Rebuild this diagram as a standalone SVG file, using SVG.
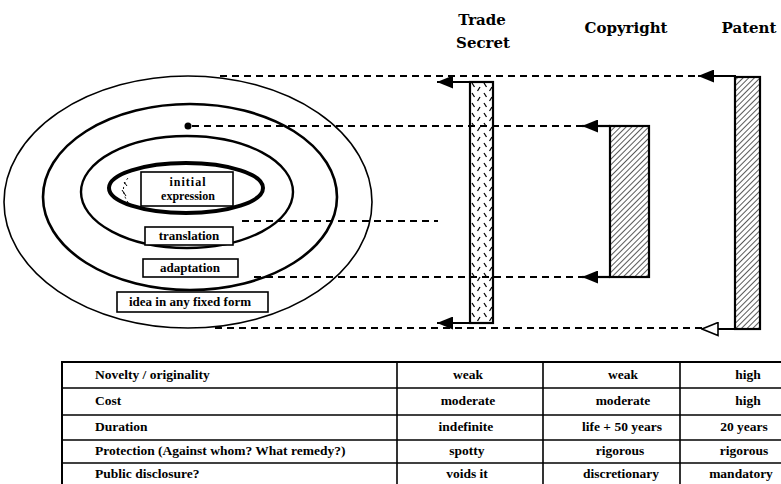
<svg xmlns="http://www.w3.org/2000/svg" width="781" height="484" viewBox="0 0 781 484">
<style>
.hdr{font-family:"DejaVu Serif","Liberation Serif",serif;font-weight:bold;font-size:15px;text-anchor:middle}
.lbl{font-family:"Liberation Serif","Times New Roman",serif;font-weight:bold;font-size:13px;text-anchor:middle}
.sm{font-size:12px}
.cell{font-family:"Liberation Serif","Times New Roman",serif;font-weight:bold;font-size:13.5px}
.mid{text-anchor:middle}
.dash{stroke:#000;stroke-width:1.8;stroke-dasharray:7 5;fill:none}
.solid{stroke:#000;stroke-width:2.2;fill:none}
.box{fill:#fff;stroke:#000;stroke-width:1.6}
.bar{stroke:#000;stroke-width:2.2}
.grid{stroke:#000;stroke-width:1.6}
</style>
<defs>
<pattern id="hatch" width="4" height="4" patternUnits="userSpaceOnUse" patternTransform="rotate(45)">
<rect width="4" height="4" fill="#fff"/>
<line x1="0" y1="0" x2="0" y2="4" stroke="#000" stroke-width="1.3"/>
</pattern>
<pattern id="brick" x="470" y="82" width="12" height="10" patternUnits="userSpaceOnUse">
<rect width="12" height="10" fill="#fff"/>
<line x1="2" y1="1" x2="4.5" y2="5" stroke="#000" stroke-width="1.3"/>
<line x1="10" y1="5" x2="7.5" y2="9" stroke="#000" stroke-width="1.3"/>
</pattern>
<marker id="arr" viewBox="0 0 16 13" refX="16" refY="6.5" markerWidth="16" markerHeight="13" markerUnits="userSpaceOnUse" orient="auto">
<path d="M0,0 L16,6.5 L0,13 z" fill="#000"/>
</marker>
<marker id="arrOpen" viewBox="-1 -1 18 15" refX="16" refY="6.5" markerWidth="18" markerHeight="15" markerUnits="userSpaceOnUse" orient="auto">
<path d="M0,0 L16,6.5 L0,13 z" fill="#fff" stroke="#000" stroke-width="1.6"/>
</marker>
</defs>
<rect width="781" height="484" fill="#fff"/>

<g id="rings">
<ellipse cx="188" cy="202" rx="184" ry="126" fill="none" stroke="#000" stroke-width="1.6"/>
<ellipse cx="190" cy="197" rx="147" ry="93" fill="none" stroke="#000" stroke-width="2.6"/>
<ellipse cx="187" cy="192" rx="106" ry="56" fill="none" stroke="#000" stroke-width="2.4"/>
<ellipse cx="186" cy="188" rx="77" ry="25" fill="none" stroke="#000" stroke-width="4"/>
<path d="M128,178 Q118,190 130,205" fill="none" stroke="#000" stroke-width="1" stroke-dasharray="2 3"/>
<path d="M122,190 L126,196 M124,182 L127,186" stroke="#000" stroke-width="1"/>
<circle cx="188" cy="126" r="3.5" fill="#000"/>
</g>

<g id="node-initial">
<rect class="box" x="141" y="172" width="92" height="34"/>
<text class="lbl sm" x="188" y="186" letter-spacing="1">initial</text>
<text class="lbl sm" x="188" y="200">expression</text>
</g>
<g id="node-translation">
<rect class="box" x="145" y="227" width="88" height="18"/>
<text class="lbl" x="189" y="240">translation</text>
</g>
<g id="node-adaptation">
<rect class="box" x="143" y="259" width="95" height="18"/>
<text class="lbl" x="190" y="272">adaptation</text>
</g>
<g id="node-idea">
<rect class="box" x="117" y="292" width="151" height="20"/>
<text class="lbl" x="190" y="306">idea in any fixed form</text>
</g>

<g id="node-trade-secret">
<text class="hdr" x="482" y="25">Trade</text>
<text class="hdr" x="483" y="48">Secret</text>
<rect class="bar" x="470" y="82" width="23" height="241" fill="url(#brick)"/>
</g>
<g id="node-copyright">
<text class="hdr" x="626" y="33">Copyright</text>
<rect class="bar" x="610" y="126" width="39" height="151" fill="url(#hatch)"/>
</g>
<g id="node-patent">
<text class="hdr" x="749" y="33">Patent</text>
<rect class="bar" x="735" y="77" width="25" height="252" fill="url(#hatch)"/>
</g>

<g id="connectors">
<line class="dash" x1="220" y1="76" x2="698" y2="76"/>
<line class="solid" x1="736" y1="76" x2="698" y2="76" marker-end="url(#arr)"/>
<line class="solid" x1="470" y1="82" x2="437" y2="82" marker-end="url(#arr)"/>
<line class="dash" x1="192" y1="126" x2="582" y2="126"/>
<line class="solid" x1="610" y1="126" x2="582" y2="126" marker-end="url(#arr)"/>
<line class="dash" x1="242" y1="221" x2="438" y2="221"/>
<line class="dash" x1="254" y1="277" x2="582" y2="277"/>
<line class="solid" x1="610" y1="277" x2="582" y2="277" marker-end="url(#arr)"/>
<line class="solid" x1="470" y1="323" x2="437" y2="323" marker-end="url(#arr)"/>
<line class="dash" x1="215" y1="328" x2="702" y2="328"/>
<line class="solid" x1="736" y1="329" x2="702" y2="329" marker-end="url(#arrOpen)"/>
</g>

<g id="table">
<rect x="62" y="362" width="740" height="140" fill="none" stroke="#000" stroke-width="2"/>
<line class="grid" x1="62" y1="388" x2="781" y2="388"/>
<line class="grid" x1="62" y1="415" x2="781" y2="415"/>
<line class="grid" x1="62" y1="440" x2="781" y2="440"/>
<line class="grid" x1="62" y1="463" x2="781" y2="463"/>
<line class="grid" x1="397" y1="362" x2="397" y2="484"/>
<line class="grid" x1="543" y1="362" x2="543" y2="484"/>
<line class="grid" x1="680" y1="362" x2="680" y2="484"/>
<text class="cell" x="95" y="379">Novelty / originality</text>
<text class="cell" x="95" y="405">Cost</text>
<text class="cell" x="95" y="431">Duration</text>
<text class="cell" x="95" y="455">Protection (Against whom? What remedy?)</text>
<text class="cell" x="95" y="478">Public disclosure?</text>
<text class="cell mid" x="468" y="379">weak</text>
<text class="cell mid" x="468" y="405">moderate</text>
<text class="cell mid" x="466" y="431">indefinite</text>
<text class="cell mid" x="467" y="455">spotty</text>
<text class="cell mid" x="467" y="478">voids it</text>
<text class="cell mid" x="623" y="379">weak</text>
<text class="cell mid" x="623" y="405">moderate</text>
<text class="cell mid" x="622" y="431">life + 50 years</text>
<text class="cell mid" x="620" y="455">rigorous</text>
<text class="cell mid" x="621" y="478">discretionary</text>
<text class="cell mid" x="748" y="379">high</text>
<text class="cell mid" x="748" y="405">high</text>
<text class="cell mid" x="744" y="431">20 years</text>
<text class="cell mid" x="744" y="455">rigorous</text>
<text class="cell mid" x="741" y="478">mandatory</text>
</g>
</svg>
